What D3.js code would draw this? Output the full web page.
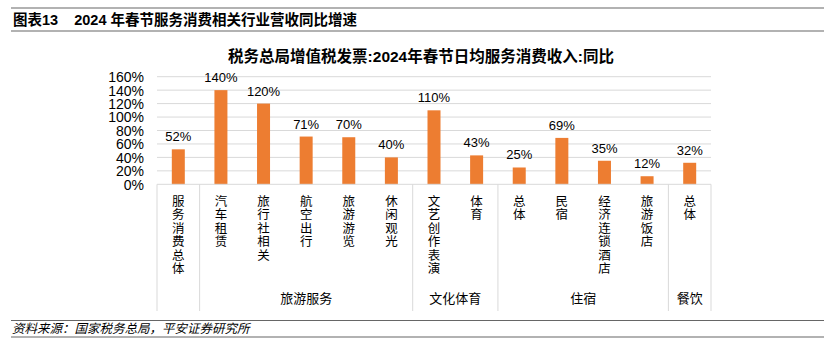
<!DOCTYPE html>
<html><head><meta charset="utf-8">
<script src="https://cdn.jsdelivr.net/npm/d3@7"></script>
<style>body{margin:0;background:#fff}svg{display:block}</style>
</head><body>
<script>
const categories = ["服务消费总体","汽车租赁","旅行社相关","航空出行","旅游游览","休闲观光","文艺创作表演","体育","总体","民宿","经济连锁酒店","旅游饭店","总体"];
const values = [52,140,120,71,70,40,110,43,25,69,35,12,32];
const groups = [
  {name:"", start:0, end:1},
  {name:"旅游服务", start:1, end:6},
  {name:"文化体育", start:6, end:8},
  {name:"住宿", start:8, end:12},
  {name:"餐饮", start:12, end:13}
];
const yTicks = [0,20,40,60,80,100,120,140,160];
const headerTitle = "图表13\u00A0\u00A0\u00A0\u00A02024 年春节服务消费相关行业营收同比增速";
const chartTitle = "税务总局增值税发票:2024年春节日均服务消费收入:同比";
const source = "资料来源：国家税务总局，平安证券研究所";

const W=839,H=352;
const svg=d3.select("body").append("svg").attr("width",W).attr("height",H);
const font="'Liberation Sans', Arial, 'Noto Sans CJK SC', sans-serif";
const cjk="'Noto Sans CJK SC', sans-serif";

// header
svg.append("line").attr("x1",11).attr("x2",824).attr("y1",8).attr("y2",8).attr("stroke","#666").attr("stroke-width",1.2);
svg.append("line").attr("x1",11).attr("x2",824).attr("y1",31).attr("y2",31).attr("stroke","#666").attr("stroke-width",1.2);
svg.append("text").attr("x",13).attr("y",25).attr("font-family",font).attr("font-weight","bold").attr("font-size",14.5).attr("fill","#000").text(headerTitle);

// footer
svg.append("line").attr("x1",11).attr("x2",824).attr("y1",320.5).attr("y2",320.5).attr("stroke","#666").attr("stroke-width",1.2);
svg.append("line").attr("x1",11).attr("x2",824).attr("y1",337).attr("y2",337).attr("stroke","#666").attr("stroke-width",1.2);
svg.append("text").attr("x",12).attr("y",333).attr("font-family",cjk).attr("font-style","italic").attr("font-size",12.5).attr("fill","#000").text(source);

// chart title
svg.append("text").attr("x",421).attr("y",62).attr("text-anchor","middle").attr("font-family",font).attr("font-weight","bold").attr("font-size",15.5).attr("fill","#000").text(chartTitle);

const x0=157,x1=711,yTop=76.7,yBot=184.3;
const x=d3.scaleBand().domain(d3.range(categories.length)).range([x0,x1]).paddingInner(0.695).paddingOuter(0.3475);
const y=d3.scaleLinear().domain([0,160]).range([yBot,yTop]);

// gridlines
svg.append("g").selectAll("line").data(yTicks.filter(d=>d>0)).join("line")
  .attr("x1",x0).attr("x2",x1).attr("y1",d=>y(d)).attr("y2",d=>y(d)).attr("stroke","#d9d9d9").attr("stroke-width",1);

// y axis labels
const yAxis=d3.axisLeft(y).tickValues(yTicks).tickFormat(d=>d+"%").tickSize(0).tickPadding(0);
const ya=svg.append("g").attr("transform",`translate(${x0-13},0)`).call(yAxis);
ya.select(".domain").remove();
ya.selectAll("text").attr("font-family",font).attr("font-size",14).attr("fill","#000").attr("dy","0.35em");

// bars
svg.append("g").selectAll("rect").data(values).join("rect")
  .attr("x",(d,i)=>x(i)).attr("width",x.bandwidth()).attr("y",d=>y(d)).attr("height",d=>y(0)-y(d)).attr("fill","#ED7D31");

// value labels
svg.append("g").selectAll("text").data(values).join("text")
  .attr("x",(d,i)=>x(i)+x.bandwidth()/2).attr("y",d=>y(d)-8).attr("text-anchor","middle")
  .attr("font-family",font).attr("font-size",13).attr("fill","#000").text(d=>d+"%");

// x axis line
svg.append("line").attr("x1",x0).attr("x2",x1).attr("y1",yBot).attr("y2",yBot).attr("stroke","#d9d9d9");

// group separators
const bounds=[0,...groups.map(g=>g.end)];
svg.append("g").selectAll("line").data(bounds).join("line")
  .attr("x1",d=>x0+d*(x1-x0)/categories.length).attr("x2",d=>x0+d*(x1-x0)/categories.length)
  .attr("y1",yBot).attr("y2",311).attr("stroke","#d9d9d9");

// category labels (vertical, one glyph per text)
const cat=svg.append("g");
categories.forEach((c,i)=>{
  const cx=x(i)+x.bandwidth()/2;
  Array.from(c).forEach((ch,k)=>{
    cat.append("text").attr("font-family",cjk).attr("font-size",12.5).attr("fill","#000").attr("text-anchor","middle")
      .attr("x",cx).attr("y",206+k*13.4).text(ch);
  });
});

// group labels
svg.append("g").selectAll("text").data(groups.filter(g=>g.name)).join("text")
  .attr("x",g=>x0+(g.start+g.end)/2*(x1-x0)/categories.length).attr("y",303).attr("text-anchor","middle")
  .attr("font-family",cjk).attr("font-size",13).attr("fill","#000").text(g=>g.name);
</script>
</body></html>
